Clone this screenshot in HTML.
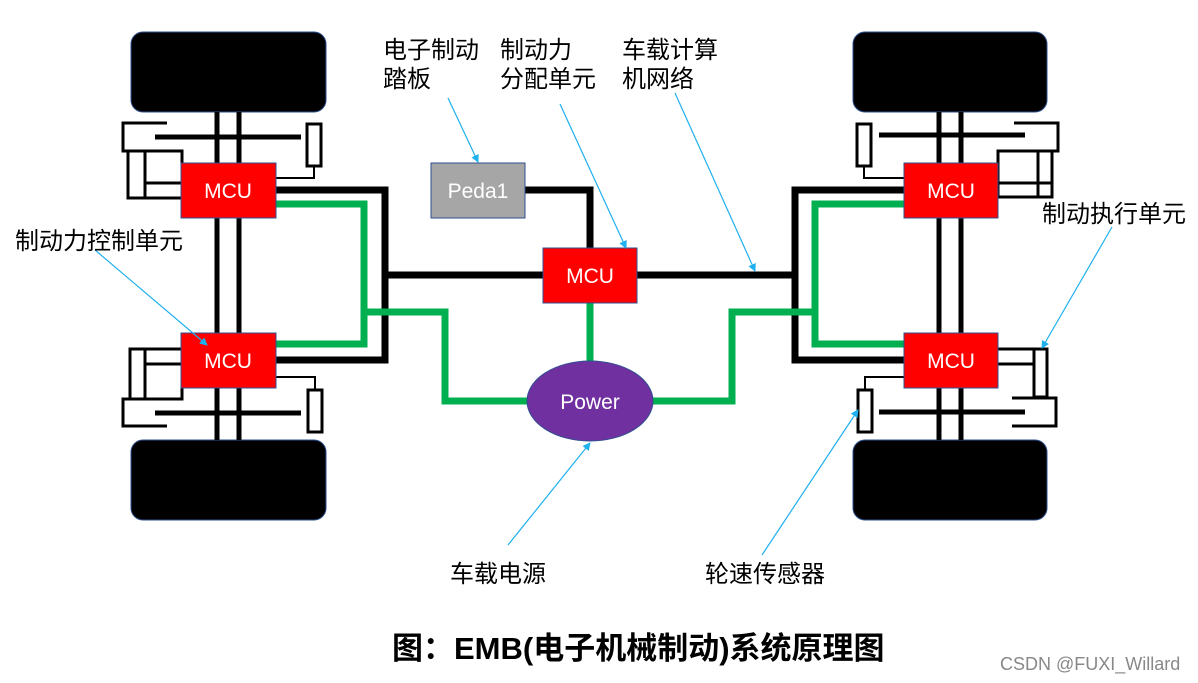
<!DOCTYPE html>
<html><head><meta charset="utf-8"><style>
html,body{margin:0;padding:0;background:#fff;}
svg{display:block;}
text{font-family:"Liberation Sans","Noto Sans CJK SC",sans-serif;}
</style></head><body>
<svg width="1198" height="683" viewBox="0 0 1198 683" xmlns="http://www.w3.org/2000/svg">
<defs>
<marker id="ar" markerWidth="8" markerHeight="8" refX="7" refY="4" orient="auto" markerUnits="userSpaceOnUse">
<path d="M0,0 L8,4 L0,8 z" fill="#1fb0ee"/></marker>
</defs>
<rect width="1198" height="683" fill="#fff"/>
<g fill="#000" stroke="#2f4f8f" stroke-width="1">
<rect x="131" y="32" width="195" height="80" rx="12"/>
<rect x="131" y="440" width="195" height="80" rx="12"/>
<rect x="853" y="32" width="194" height="80" rx="12"/>
<rect x="853" y="440" width="194" height="80" rx="12"/>
</g>
<g stroke="#000" fill="none">
<line x1="217" y1="112" x2="217" y2="440" stroke-width="5"/>
<line x1="239" y1="112" x2="239" y2="440" stroke-width="5"/>
<line x1="939" y1="112" x2="939" y2="440" stroke-width="5"/>
<line x1="961" y1="112" x2="961" y2="440" stroke-width="5"/>
<line x1="155" y1="137" x2="301" y2="137" stroke-width="5"/>
<line x1="155" y1="413" x2="301" y2="413" stroke-width="5"/>
<line x1="879" y1="135" x2="1025" y2="135" stroke-width="5"/>
<line x1="879" y1="412" x2="1025" y2="412" stroke-width="5"/>
<g stroke-width="3">
<polyline points="167,123 123,123 123,151 167,151"/>
<rect x="128" y="151" width="54" height="47"/>
<line x1="145" y1="151" x2="145" y2="198"/>
<line x1="145" y1="183" x2="182" y2="183"/>
<polyline points="167,399 123,399 123,426 167,426"/>
<rect x="130" y="349" width="52" height="50"/>
<line x1="145" y1="349" x2="145" y2="399"/>
<line x1="145" y1="364" x2="182" y2="364"/>
<polyline points="1014,123 1058,123 1058,151 1014,151"/>
<rect x="998" y="151" width="54" height="46"/>
<line x1="1038" y1="151" x2="1038" y2="197"/>
<line x1="998" y1="183" x2="1052" y2="183"/>
<rect x="997" y="349" width="37" height="15"/>
<rect x="1034" y="349" width="13" height="48"/>
<polyline points="1012,398 1056,398 1056,426 1012,426"/>
<rect x="307" y="124" width="14" height="42"/>
<rect x="308" y="390" width="14" height="42"/>
<rect x="857" y="124" width="14" height="42"/>
<rect x="858" y="390" width="14" height="42"/>
</g>
<g stroke-width="2">
<polyline points="314,166 314,178 276,178"/>
<polyline points="276,377 315,377 315,390"/>
<polyline points="864,166 864,178 904,178"/>
<polyline points="865,390 865,377 904,377"/>
</g>
<g stroke-width="7">
<polyline points="276,190 385,190 385,360 276,360"/>
<polyline points="904,190 795,190 795,360 904,360"/>
<line x1="385" y1="275" x2="795" y2="275"/>
<polyline points="525,190 590,190 590,250"/>
</g>
</g>
<g stroke="#00b050" stroke-width="7" fill="none">
<polyline points="276,204 364,204 364,344 276,344"/>
<polyline points="364,312 445,312 445,401 530,401"/>
<polyline points="904,204 815,204 815,344 904,344"/>
<polyline points="815,312 732,312 732,401 650,401"/>
<line x1="590" y1="303" x2="590" y2="362"/>
</g>
<g fill="#ff0000" stroke="#2f4f8f" stroke-width="1">
<rect x="181" y="163" width="95" height="55"/>
<rect x="181" y="333" width="95" height="55"/>
<rect x="904" y="163" width="94" height="55"/>
<rect x="904" y="333" width="94" height="55"/>
<rect x="543" y="248" width="94" height="55"/>
</g>
<rect x="431" y="163" width="94" height="55" fill="#a6a6a6" stroke="#2f4f8f" stroke-width="1"/>
<ellipse cx="590" cy="401" rx="63" ry="40" fill="#7030a0" stroke="#2f4f8f" stroke-width="1"/>
<g fill="#fff" font-size="21" text-anchor="middle">
<text x="228" y="198">MCU</text>
<text x="228" y="368">MCU</text>
<text x="951" y="198">MCU</text>
<text x="951" y="368">MCU</text>
<text x="590" y="283">MCU</text>
<text x="478" y="198">Peda1</text>
<text x="590" y="409">Power</text>
</g>
<g stroke="#1fb0ee" stroke-width="1.2" marker-end="url(#ar)">
<line x1="448" y1="98" x2="478" y2="162"/>
<line x1="560" y1="104" x2="626" y2="248"/>
<line x1="675" y1="93" x2="755" y2="271"/>
<line x1="95" y1="250" x2="207" y2="345"/>
<line x1="1112" y1="227" x2="1042" y2="348"/>
<line x1="762" y1="555" x2="858" y2="410"/>
<line x1="508" y1="545" x2="590" y2="443"/>
</g>
<g fill="#000" font-size="24">
<text x="383" y="58">电子制动</text>
<text x="383" y="87">踏板</text>
<text x="500" y="58">制动力</text>
<text x="500" y="87">分配单元</text>
<text x="622" y="58">车载计算</text>
<text x="622" y="87">机网络</text>
<text x="15" y="249">制动力控制单元</text>
<text x="1042" y="222">制动执行单元</text>
<text x="450" y="582">车载电源</text>
<text x="705" y="582">轮速传感器</text>
<text x="392" y="659" font-size="31" font-weight="bold">图：EMB(电子机械制动)系统原理图</text>
<text x="1000" y="670" font-size="18" fill="#888">CSDN @FUXI_Willard</text>
</g>
</svg>
</body></html>
